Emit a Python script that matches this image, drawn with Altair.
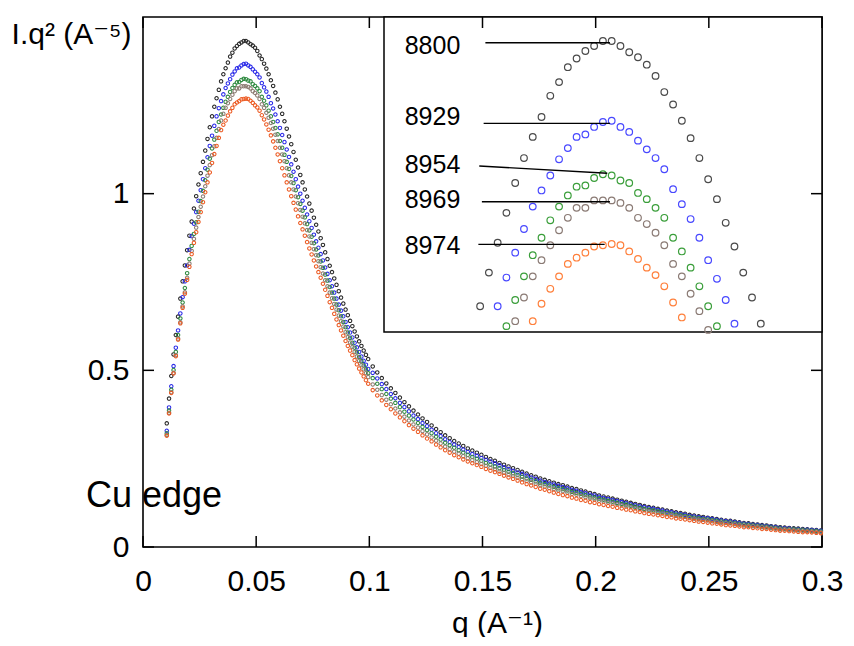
import altair as alt
import pandas as pd

FONT = "Liberation Sans, Arial, DejaVu Sans, sans-serif"

# ---------------- data ----------------
series_names = ["8800", "8929", "8954", "8969", "8974"]
series_colors = ["#262626", "#2a2ae8", "#2f8a40", "#8c7b72", "#ec5a22"]
inset_colors = ["#4a4a4a", "#4848ff", "#3a9e3a", "#8a7a74", "#ff7f3a"]

# q grid of the measurement (A^-1): 0.001 steps up to 0.1, 0.002 steps beyond
q_fine = [round(0.0105 + 0.001 * i, 4) for i in range(90)]
q_coarse = [round(0.1015 + 0.002 * j, 4) for j in range(100)]
q_values = q_fine + q_coarse

I_8800 = [
    0.350, 0.420, 0.484, 0.545, 0.600, 0.652, 0.703, 0.752, 0.797, 0.840,
    0.881, 0.921, 0.958, 0.993, 1.026, 1.058, 1.090, 1.122, 1.155, 1.188,
    1.219, 1.246, 1.270, 1.294, 1.318, 1.338, 1.355, 1.371, 1.388, 1.399,
    1.411, 1.418, 1.424, 1.428, 1.432, 1.432, 1.428, 1.423, 1.419, 1.413,
    1.404, 1.391, 1.381, 1.368, 1.354, 1.338, 1.321, 1.305, 1.286, 1.267,
    1.246, 1.226, 1.205, 1.184, 1.162, 1.140, 1.118, 1.096, 1.074, 1.053,
    1.032, 1.012, 0.992, 0.972, 0.952, 0.932, 0.912, 0.893, 0.874, 0.855,
    0.834, 0.815, 0.796, 0.778, 0.760, 0.742, 0.724, 0.706, 0.689, 0.672,
    0.656, 0.640, 0.625, 0.610, 0.596, 0.582, 0.569, 0.556, 0.544, 0.532,
    0.511, 0.494, 0.478, 0.463, 0.449, 0.436, 0.423, 0.410, 0.398, 0.386,
    0.375, 0.364, 0.354, 0.344, 0.334, 0.325, 0.316, 0.308, 0.300, 0.293,
    0.286, 0.279, 0.273, 0.267, 0.261, 0.255, 0.249, 0.244, 0.238, 0.233,
    0.228, 0.223, 0.218, 0.213, 0.208, 0.203, 0.199, 0.194, 0.190, 0.186,
    0.182, 0.178, 0.175, 0.171, 0.167, 0.164, 0.160, 0.157, 0.153, 0.150,
    0.146, 0.143, 0.140, 0.137, 0.134, 0.131, 0.128, 0.125, 0.122, 0.119,
    0.116, 0.113, 0.111, 0.108, 0.106, 0.103, 0.101, 0.098, 0.096, 0.094,
    0.091, 0.089, 0.087, 0.085, 0.083, 0.081, 0.079, 0.077, 0.075, 0.074,
    0.072, 0.070, 0.068, 0.067, 0.065, 0.064, 0.062, 0.061, 0.059, 0.058,
    0.056, 0.055, 0.054, 0.053, 0.052, 0.051, 0.050, 0.049, 0.048, 0.047,
]
I_8929 = [
    0.329, 0.395, 0.455, 0.512, 0.564, 0.613, 0.661, 0.707, 0.752, 0.797,
    0.841, 0.880, 0.915, 0.948, 0.980, 1.010, 1.041, 1.072, 1.103, 1.135,
    1.164, 1.192, 1.219, 1.242, 1.262, 1.281, 1.299, 1.312, 1.324, 1.337,
    1.346, 1.355, 1.357, 1.363, 1.367, 1.368, 1.363, 1.359, 1.352, 1.345,
    1.338, 1.329, 1.313, 1.301, 1.289, 1.274, 1.256, 1.241, 1.224, 1.205,
    1.186, 1.166, 1.146, 1.125, 1.104, 1.083, 1.062, 1.041, 1.020, 1.000,
    0.980, 0.960, 0.941, 0.922, 0.903, 0.884, 0.865, 0.847, 0.829, 0.811,
    0.791, 0.773, 0.755, 0.738, 0.720, 0.703, 0.686, 0.669, 0.653, 0.637,
    0.622, 0.607, 0.593, 0.578, 0.565, 0.552, 0.539, 0.527, 0.516, 0.504,
    0.493, 0.477, 0.461, 0.447, 0.433, 0.421, 0.408, 0.396, 0.384, 0.372,
    0.362, 0.351, 0.342, 0.332, 0.322, 0.314, 0.305, 0.297, 0.290, 0.283,
    0.276, 0.269, 0.263, 0.258, 0.252, 0.247, 0.242, 0.237, 0.231, 0.226,
    0.221, 0.216, 0.211, 0.207, 0.202, 0.197, 0.193, 0.188, 0.184, 0.180,
    0.177, 0.173, 0.170, 0.166, 0.162, 0.159, 0.155, 0.152, 0.148, 0.146,
    0.142, 0.139, 0.136, 0.133, 0.130, 0.127, 0.124, 0.121, 0.118, 0.115,
    0.113, 0.110, 0.108, 0.105, 0.103, 0.100, 0.098, 0.095, 0.093, 0.091,
    0.088, 0.086, 0.084, 0.082, 0.081, 0.079, 0.077, 0.075, 0.073, 0.072,
    0.070, 0.068, 0.066, 0.065, 0.063, 0.062, 0.060, 0.059, 0.057, 0.056,
    0.054, 0.053, 0.052, 0.051, 0.050, 0.049, 0.049, 0.048, 0.047, 0.046,
]
I_8954 = [
    0.322, 0.386, 0.445, 0.501, 0.552, 0.600, 0.647, 0.692, 0.733, 0.775,
    0.815, 0.852, 0.886, 0.919, 0.949, 0.979, 1.008, 1.038, 1.068, 1.099,
    1.128, 1.153, 1.178, 1.203, 1.224, 1.243, 1.260, 1.274, 1.288, 1.299,
    1.308, 1.315, 1.316, 1.322, 1.325, 1.324, 1.320, 1.318, 1.310, 1.305,
    1.298, 1.290, 1.274, 1.263, 1.250, 1.235, 1.219, 1.203, 1.186, 1.168,
    1.149, 1.130, 1.110, 1.090, 1.070, 1.050, 1.030, 1.010, 0.990, 0.971,
    0.952, 0.933, 0.914, 0.896, 0.878, 0.860, 0.842, 0.825, 0.808, 0.790,
    0.771, 0.754, 0.736, 0.720, 0.703, 0.686, 0.670, 0.653, 0.637, 0.622,
    0.607, 0.592, 0.578, 0.564, 0.551, 0.538, 0.526, 0.514, 0.503, 0.492,
    0.478, 0.462, 0.447, 0.433, 0.420, 0.408, 0.396, 0.383, 0.372, 0.361,
    0.351, 0.340, 0.331, 0.322, 0.312, 0.304, 0.295, 0.288, 0.281, 0.274,
    0.267, 0.261, 0.255, 0.250, 0.244, 0.238, 0.233, 0.228, 0.223, 0.218,
    0.213, 0.209, 0.204, 0.199, 0.194, 0.190, 0.186, 0.181, 0.178, 0.174,
    0.170, 0.166, 0.164, 0.160, 0.156, 0.153, 0.150, 0.147, 0.143, 0.140,
    0.137, 0.134, 0.131, 0.128, 0.125, 0.122, 0.120, 0.117, 0.114, 0.111,
    0.108, 0.106, 0.104, 0.101, 0.099, 0.096, 0.094, 0.092, 0.090, 0.088,
    0.085, 0.083, 0.081, 0.079, 0.078, 0.076, 0.074, 0.072, 0.070, 0.069,
    0.067, 0.065, 0.064, 0.063, 0.061, 0.060, 0.058, 0.057, 0.055, 0.054,
    0.052, 0.051, 0.050, 0.050, 0.049, 0.048, 0.047, 0.046, 0.045, 0.044,
]
I_8969 = [
    0.317, 0.380, 0.438, 0.493, 0.543, 0.590, 0.636, 0.681, 0.721, 0.762,
    0.802, 0.838, 0.872, 0.904, 0.934, 0.963, 0.992, 1.021, 1.051, 1.081,
    1.109, 1.134, 1.158, 1.183, 1.207, 1.226, 1.243, 1.256, 1.268, 1.280,
    1.290, 1.298, 1.298, 1.304, 1.304, 1.304, 1.302, 1.298, 1.290, 1.285,
    1.278, 1.268, 1.253, 1.243, 1.229, 1.215, 1.200, 1.184, 1.167, 1.149,
    1.130, 1.111, 1.092, 1.072, 1.052, 1.032, 1.012, 0.992, 0.973, 0.954,
    0.935, 0.916, 0.897, 0.879, 0.861, 0.843, 0.826, 0.809, 0.792, 0.774,
    0.755, 0.738, 0.720, 0.704, 0.688, 0.672, 0.655, 0.639, 0.624, 0.608,
    0.594, 0.579, 0.566, 0.552, 0.539, 0.527, 0.515, 0.503, 0.492, 0.481,
    0.460, 0.445, 0.430, 0.417, 0.404, 0.392, 0.381, 0.369, 0.358, 0.347,
    0.338, 0.328, 0.319, 0.310, 0.301, 0.293, 0.284, 0.277, 0.270, 0.264,
    0.257, 0.251, 0.246, 0.240, 0.235, 0.230, 0.224, 0.220, 0.214, 0.210,
    0.205, 0.201, 0.196, 0.192, 0.187, 0.183, 0.179, 0.175, 0.171, 0.167,
    0.164, 0.160, 0.158, 0.154, 0.150, 0.148, 0.144, 0.141, 0.138, 0.135,
    0.131, 0.129, 0.126, 0.123, 0.121, 0.118, 0.115, 0.113, 0.110, 0.107,
    0.104, 0.102, 0.100, 0.097, 0.095, 0.093, 0.091, 0.088, 0.086, 0.085,
    0.082, 0.080, 0.078, 0.077, 0.075, 0.073, 0.071, 0.069, 0.068, 0.067,
    0.065, 0.063, 0.061, 0.060, 0.059, 0.058, 0.056, 0.055, 0.053, 0.052,
    0.050, 0.050, 0.049, 0.048, 0.047, 0.046, 0.045, 0.044, 0.043, 0.042,
]
I_8974 = [
    0.315, 0.378, 0.436, 0.491, 0.540, 0.587, 0.633, 0.677, 0.717, 0.756,
    0.793, 0.829, 0.861, 0.891, 0.920, 0.948, 0.976, 1.004, 1.032, 1.060,
    1.087, 1.112, 1.135, 1.158, 1.180, 1.195, 1.207, 1.221, 1.233, 1.243,
    1.253, 1.258, 1.262, 1.267, 1.268, 1.269, 1.268, 1.263, 1.257, 1.250,
    1.244, 1.235, 1.222, 1.210, 1.196, 1.181, 1.165, 1.148, 1.130, 1.111,
    1.092, 1.072, 1.052, 1.032, 1.012, 0.993, 0.974, 0.955, 0.936, 0.917,
    0.899, 0.881, 0.863, 0.845, 0.828, 0.811, 0.794, 0.778, 0.762, 0.745,
    0.728, 0.711, 0.693, 0.677, 0.660, 0.644, 0.628, 0.613, 0.598, 0.583,
    0.569, 0.556, 0.543, 0.529, 0.517, 0.505, 0.494, 0.483, 0.472, 0.462,
    0.444, 0.429, 0.415, 0.402, 0.390, 0.378, 0.367, 0.356, 0.345, 0.335,
    0.326, 0.316, 0.307, 0.299, 0.290, 0.282, 0.274, 0.267, 0.260, 0.254,
    0.248, 0.242, 0.237, 0.232, 0.227, 0.221, 0.216, 0.212, 0.207, 0.202,
    0.197, 0.193, 0.188, 0.183, 0.178, 0.174, 0.170, 0.165, 0.162, 0.158,
    0.154, 0.150, 0.147, 0.144, 0.140, 0.137, 0.133, 0.131, 0.127, 0.125,
    0.121, 0.119, 0.116, 0.114, 0.111, 0.109, 0.106, 0.104, 0.101, 0.099,
    0.096, 0.094, 0.092, 0.090, 0.088, 0.085, 0.084, 0.081, 0.080, 0.078,
    0.076, 0.074, 0.072, 0.071, 0.069, 0.067, 0.066, 0.064, 0.062, 0.061,
    0.060, 0.058, 0.056, 0.056, 0.054, 0.053, 0.051, 0.051, 0.049, 0.048,
    0.046, 0.046, 0.045, 0.044, 0.043, 0.042, 0.042, 0.041, 0.040, 0.039,
]
series_values = [I_8800, I_8929, I_8954, I_8969, I_8974]

x_ticks = [0, 0.05, 0.1, 0.15, 0.2, 0.25, 0.3]
y_ticks = [0, 0.5, 1]
x_title = "q (A\u207b\u00b9)"
y_title = "I.q\u00b2 (A\u207b\u2075)"
note_text = ["Cu edge"]

# inset: magnified view of the peak
INSET_Q = [0.01954, 0.06948]
INSET_I = [1.1983, 1.4513]
lead_labels = ["8800", "8929", "8954", "8969", "8974"]
label_q = [0.0219, 0.0219, 0.0219, 0.0219, 0.0219]
label_I = [1.4284, 1.3712, 1.3324, 1.3041, 1.2671]
lead_q0 = [0.0311, 0.0309, 0.0304, 0.0307, 0.0303]
lead_q1 = [0.0453, 0.0453, 0.0450, 0.0453, 0.0447]
lead_I0 = [1.4306, 1.3659, 1.3316, 1.3029, 1.2687]
lead_I1 = [1.4306, 1.3659, 1.3258, 1.3029, 1.2687]

# ---------------- tables ----------------
rows = []
for name, vals in zip(series_names, series_values):
    for q, v in zip(q_values, vals):
        rows.append({"series": name, "q": q, "I": v})
df = pd.DataFrame(rows)

ticks_x_df = pd.DataFrame({"t": x_ticks})
ticks_y_df = pd.DataFrame({"t": y_ticks})
box_df = pd.DataFrame({"q0": [INSET_Q[0]], "q1": [INSET_Q[1]],
                       "i0": [INSET_I[0]], "i1": [INSET_I[1]]})
lead_df = pd.DataFrame({"label": lead_labels, "lq": label_q, "li": label_I,
                        "q0": lead_q0, "q1": lead_q1, "i0": lead_I0, "i1": lead_I1})
note_df = pd.DataFrame({"t": note_text})

# ---------------- layout ----------------
W, H = 679, 530
TICK = 11
X_DOMAIN = [0, 0.3]
Y_DOMAIN = [0, 1.5]
INSET_X_RANGE = [241, W]
INSET_Y_RANGE = [315, 0]


def xs():
    return alt.Scale(domain=X_DOMAIN, nice=False, zero=False)


def ys():
    return alt.Scale(domain=Y_DOMAIN, nice=False, zero=False)


def iqs():
    return alt.Scale(domain=INSET_Q, range=INSET_X_RANGE, nice=False, zero=False)


def iis():
    return alt.Scale(domain=INSET_I, range=INSET_Y_RANGE, nice=False, zero=False)


points = alt.Chart(df).mark_point(
    shape="circle", filled=False, size=12, strokeWidth=1.05, opacity=1
).encode(
    x=alt.X("q:Q", scale=xs(), axis=alt.Axis(
        values=x_ticks, format="~g", orient="bottom", domain=False, ticks=False,
        tickSize=0, grid=False, labelFlush=False, labelOverlap=False,
        labelFont=FONT, labelFontSize=30, labelColor="black", labelPadding=19,
        title=x_title, titleFont=FONT, titleFontSize=30, titleFontWeight="normal",
        titleColor="black", titleX=354, titleY=85, titleAlign="center",
        titleBaseline="alphabetic")),
    y=alt.Y("I:Q", scale=ys(), axis=alt.Axis(
        values=y_ticks, format="~g", orient="left", domain=False, ticks=False,
        tickSize=0, grid=False, labelFlush=False, labelOverlap=False,
        labelFont=FONT, labelFontSize=30, labelColor="black", labelPadding=14,
        title=y_title, titleFont=FONT, titleFontSize=30, titleFontWeight="normal",
        titleColor="black", titleAngle=0, titleX=-12, titleY=26,
        titleAlign="right", titleBaseline="alphabetic")),
    color=alt.Color("series:N", scale=alt.Scale(domain=series_names, range=series_colors),
                    legend=None),
)

inset_box = alt.Chart(box_df).mark_rect(fill="white", stroke="black", strokeWidth=1.5).encode(
    x=alt.X("q0:Q", scale=iqs(), axis=None), x2="q1:Q",
    y=alt.Y("i0:Q", scale=iis(), axis=None), y2="i1:Q",
)

tick_style = dict(color="black", strokeWidth=1.5)
ticks_bottom = alt.Chart(ticks_x_df).mark_rule(**tick_style).encode(
    x=alt.X("t:Q", scale=xs(), axis=None), y=alt.value(H), y2=alt.value(H - TICK))
ticks_top = alt.Chart(ticks_x_df).mark_rule(**tick_style).encode(
    x=alt.X("t:Q", scale=xs(), axis=None), y=alt.value(0), y2=alt.value(TICK))
ticks_left = alt.Chart(ticks_y_df).mark_rule(**tick_style).encode(
    y=alt.Y("t:Q", scale=ys(), axis=None), x=alt.value(0), x2=alt.value(TICK))
ticks_right = alt.Chart(ticks_y_df).mark_rule(**tick_style).encode(
    y=alt.Y("t:Q", scale=ys(), axis=None), x=alt.value(W), x2=alt.value(W - TICK))

inset_points = alt.Chart(df).transform_filter(
    alt.FieldRangePredicate(field="q", range=INSET_Q)
).transform_filter(
    alt.FieldRangePredicate(field="I", range=INSET_I)
).mark_point(shape="circle", filled=False, size=44, strokeWidth=1.2, opacity=1).encode(
    x=alt.X("q:Q", scale=iqs(), axis=None),
    y=alt.Y("I:Q", scale=iis(), axis=None),
    color=alt.Color("series:N", scale=alt.Scale(domain=series_names, range=inset_colors),
                    legend=None),
)

leaders = alt.Chart(lead_df).mark_rule(color="black", strokeWidth=1.4).encode(
    x=alt.X("q0:Q", scale=iqs(), axis=None), x2="q1:Q",
    y=alt.Y("i0:Q", scale=iis(), axis=None), y2="i1:Q",
)

labels = alt.Chart(lead_df).mark_text(
    align="left", baseline="middle", font=FONT, fontSize=25, color="black"
).encode(
    x=alt.X("lq:Q", scale=iqs(), axis=None),
    y=alt.Y("li:Q", scale=iis(), axis=None),
    text="label:N",
)

note = alt.Chart(note_df).mark_text(
    align="left", baseline="alphabetic", font=FONT, fontSize=36, color="black"
).encode(x=alt.value(-57), y=alt.value(490), text="t:N")

chart = alt.layer(
    points, inset_box, ticks_bottom, ticks_top, ticks_left, ticks_right,
    inset_points, leaders, labels, note,
).resolve_scale(
    x="independent", y="independent", color="independent"
).properties(
    width=W, height=H,
    autosize=alt.AutoSizeParams(type="none"),
    padding={"left": 135, "top": 9, "right": 24, "bottom": 90},
).configure_view(stroke="black", strokeWidth=1.6)

chart.save("out.html", embed_options={"renderer": "svg", "actions": False})
